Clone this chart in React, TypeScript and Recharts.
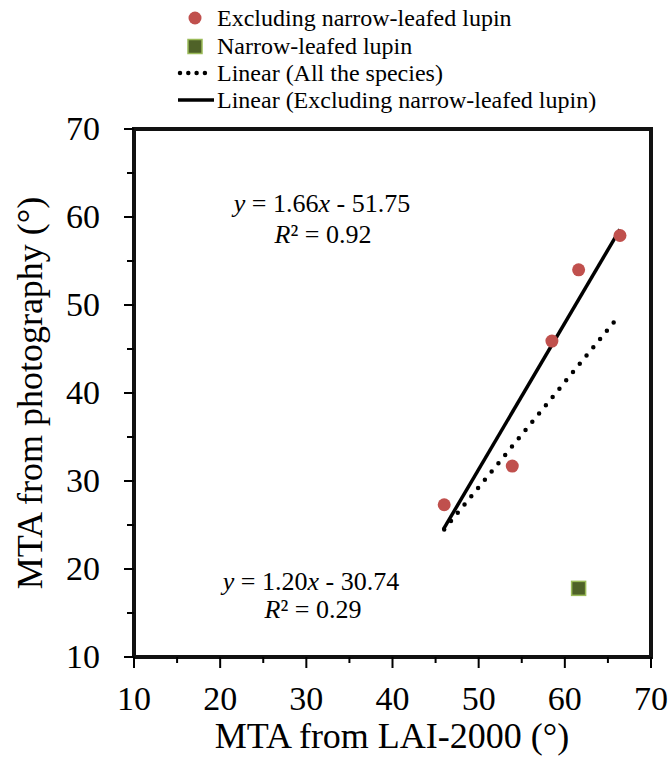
import { ScatterChart, Scatter, XAxis, YAxis } from "recharts";

// values
const excludingX = [46.0, 53.9, 58.5, 61.6, 66.4];
const excludingY = [27.3, 31.7, 45.9, 54.0, 57.9];
const lupinX = [61.6];
const lupinY = [17.8];
const fitAllX = [46.0, 66.4];
const fitAllY = [24.5, 48.9];
const fitExclX = [45.9, 66.4];
const fitExclY = [24.5, 58.6];
const axisTicks = [10, 15, 20, 25, 30, 35, 40, 45, 50, 55, 60, 65, 70];
const axisDomain = [10, 70];
// plot frame corners (axis limits)
const frameX = [10, 10, 70, 70, 10];
const frameY = [10, 70, 70, 10, 10];

const FONT = '"Liberation Serif", "Times New Roman", serif';

const toPoints = (xs: number[], ys: number[]) => xs.map((x, i) => ({ x, y: ys[i] }));

const excluding = toPoints(excludingX, excludingY);
const lupin = toPoints(lupinX, lupinY);
const fitAll = toPoints(fitAllX, fitAllY);
const fitExcl = toPoints(fitExclX, fitExclY);
const frame = toPoints(frameX, frameY);

function XTick(props: any) {
  const { x, y, payload } = props;
  const major = payload.value % 10 === 0;
  return (
    <g>
      <line x1={x} x2={x} y1={y} y2={y + (major ? 11 : 6)} stroke="#000" strokeWidth={2} />
      {major && (
        <text x={x} y={y + 53} textAnchor="middle" fontFamily={FONT} fontSize={34} fill="#000">
          {payload.value}
        </text>
      )}
    </g>
  );
}

function YTick(props: any) {
  const { x, y, payload } = props;
  const major = payload.value % 10 === 0;
  return (
    <g>
      <line x1={x - (major ? 10 : 7)} x2={x} y1={y} y2={y} stroke="#000" strokeWidth={2} />
      {major && (
        <text x={x - 34} y={y + 11} textAnchor="end" fontFamily={FONT} fontSize={34} fill="#000">
          {payload.value}
        </text>
      )}
    </g>
  );
}

const RedDot = (p: any) => <circle cx={p.cx} cy={p.cy} r={6.5} fill="#c0504d" />;
const GreenSquare = (p: any) => (
  <rect x={p.cx - 7} y={p.cy - 7} width={14} height={14} fill="#4f6228" stroke="#9bbb59" strokeWidth={1.5} />
);
const NoShape = () => null;

export default function App() {
  return (
    <div style={{ position: "absolute", left: 0, top: 0, width: 671, height: 762, background: "#fff" }}>
      <ScatterChart width={671} height={762} margin={{ top: 129, right: 20, left: 0, bottom: 0 }}>
        <XAxis
          type="number"
          dataKey="x"
          domain={axisDomain}
          ticks={axisTicks}
          interval={0}
          tickSize={0}
          tickMargin={0}
          tickLine={false}
          tick={<XTick />}
          axisLine={{ stroke: "#000", strokeWidth: 2 }}
          height={105}
        />
        <YAxis
          type="number"
          dataKey="y"
          domain={axisDomain}
          ticks={axisTicks}
          interval={0}
          tickSize={0}
          tickMargin={0}
          tickLine={false}
          tick={<YTick />}
          axisLine={{ stroke: "#000", strokeWidth: 2 }}
          width={134}
        />
        <Scatter
          data={frame}
          shape={NoShape}
          line={{ stroke: "#111111", strokeWidth: 4 }}
          isAnimationActive={false}
        />
        <Scatter
          data={fitAll}
          shape={NoShape}
          line={{ stroke: "#000", strokeWidth: 4.5, strokeDasharray: "0 10.7", strokeLinecap: "round" }}
          isAnimationActive={false}
        />
        <Scatter
          data={fitExcl}
          shape={NoShape}
          line={{ stroke: "#000", strokeWidth: 3.5 }}
          isAnimationActive={false}
        />
        <Scatter data={excluding} shape={RedDot} isAnimationActive={false} />
        <Scatter data={lupin} shape={GreenSquare} isAnimationActive={false} />
      </ScatterChart>

      {/* legend, equations and axis titles */}
      <svg width={671} height={762} style={{ position: "absolute", left: 0, top: 0, pointerEvents: "none" }} fontFamily={FONT} fill="#000">
        <circle cx={195} cy={18} r={6.5} fill="#c0504d" />
        <text x={217} y={26} fontSize={24}>Excluding narrow-leafed lupin</text>
        <rect x={188} y={39.5} width={14} height={14} fill="#4f6228" stroke="#9bbb59" strokeWidth={1.5} />
        <text x={217} y={53.5} fontSize={24}>Narrow-leafed lupin</text>
        <line x1={180} x2={213} y1={73} y2={73} stroke="#000" strokeWidth={4.5} strokeDasharray="0 8.3" strokeLinecap="round" />
        <text x={217} y={81} fontSize={24}>Linear (All the species)</text>
        <line x1={178} x2={214} y1={100} y2={100} stroke="#000" strokeWidth={3.5} />
        <text x={217} y={108} fontSize={24}>Linear (Excluding narrow-leafed lupin)</text>

        <text x={322} y={212} fontSize={26} textAnchor="middle">
          <tspan fontStyle="italic">y</tspan> = 1.66<tspan fontStyle="italic">x</tspan> - 51.75
        </text>
        <text x={323} y={243} fontSize={26} textAnchor="middle">
          <tspan fontStyle="italic">R</tspan>² = 0.92
        </text>
        <text x={311} y={590} fontSize={26} textAnchor="middle">
          <tspan fontStyle="italic">y</tspan> = 1.20<tspan fontStyle="italic">x</tspan> - 30.74
        </text>
        <text x={313} y={618} fontSize={26} textAnchor="middle">
          <tspan fontStyle="italic">R</tspan>² = 0.29
        </text>

        <text x={392} y={748} fontSize={36} textAnchor="middle">MTA from LAI-2000 (°)</text>
        <text x={42} y={393} fontSize={36} textAnchor="middle" transform="rotate(-90 42 393)">
          MTA from photography (°)
        </text>
      </svg>
    </div>
  );
}
